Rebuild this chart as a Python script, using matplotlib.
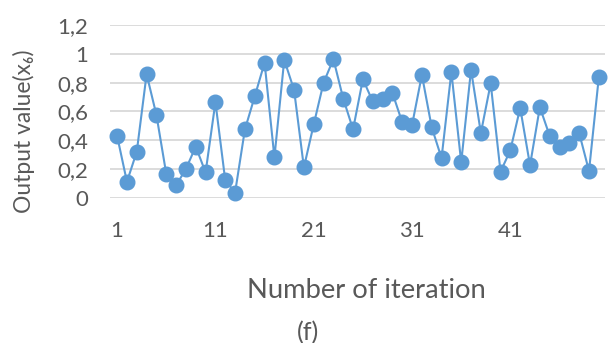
import matplotlib
matplotlib.use('Agg')
import matplotlib.pyplot as plt

plt.rcParams['font.family'] = ['Lato', 'DejaVu Sans']

# Data
iterations = list(range(1, 51))
output_x6 = [0.43, 0.11, 0.32, 0.86, 0.575, 0.165, 0.085, 0.20, 0.355, 0.175,
             0.665, 0.12, 0.035, 0.475, 0.705, 0.94, 0.28, 0.96, 0.75, 0.21,
             0.51, 0.80, 0.965, 0.69, 0.475, 0.825, 0.67, 0.69, 0.73, 0.525,
             0.505, 0.855, 0.49, 0.275, 0.875, 0.245, 0.89, 0.45, 0.795, 0.18,
             0.33, 0.625, 0.225, 0.63, 0.43, 0.35, 0.38, 0.45, 0.185, 0.84]
y_ticks = [0, 0.2, 0.4, 0.6, 0.8, 1.0, 1.2]
y_tick_labels = ['0', '0,2', '0,4', '0,6', '0,8', '1', '1,2']
x_ticks = [1, 11, 21, 31, 41]

text_color = '#595959'
blue = '#5B9BD5'

fig = plt.figure(figsize=(6.09, 3.43), dpi=100)
ax = fig.add_axes([0.181, 0.424, 0.812, 0.502])

ax.plot(iterations, output_x6, color=blue, linewidth=1.5, marker='o',
        markersize=10.5, markeredgecolor=blue, clip_on=False, zorder=3)

ax.set_xlim(0.3, 50.6)
ax.set_ylim(0, 1.2)
ax.set_yticks(y_ticks)
ax.set_yticklabels(y_tick_labels)
ax.set_xticks(x_ticks)
ax.set_xticklabels([str(t) for t in x_ticks])

ax.grid(True, axis='y', color='#D9D9D9', linewidth=1.3, zorder=0)
ax.grid(False, axis='x')
for s in ax.spines.values():
    s.set_visible(False)
ax.tick_params(axis='both', length=0, labelsize=16, colors=text_color)
ax.tick_params(axis='y', pad=16)
ax.tick_params(axis='x', pad=17)

fig.text(0.040, 0.618, 'Output value(x\u2086)', rotation=90, ha='center', va='center',
         fontsize=16.5, color=text_color)
fig.text(0.601, 0.152, 'Number of iteration', ha='center', va='center',
         fontsize=19.7, color=text_color)
fig.text(0.506, 0.03, '(f)', ha='center', va='center',
         fontsize=18, color=text_color)

fig.savefig('out.png', dpi=100, facecolor='white')
